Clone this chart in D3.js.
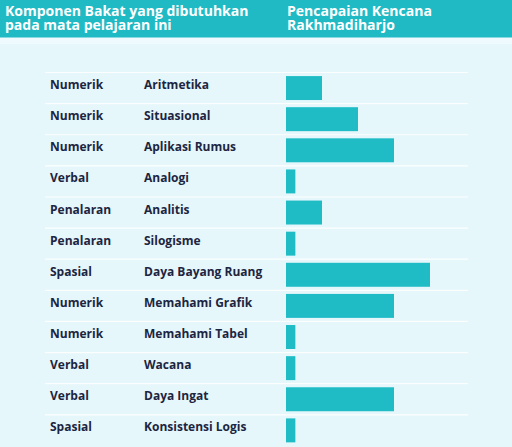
<!DOCTYPE html>
<html><head><meta charset="utf-8">
<script src="https://cdn.jsdelivr.net/npm/d3@7"></script>
<style>body{margin:0;background:#e6f7fb;}svg{display:block;}</style>
</head><body>
<script>
const headers = ["Komponen Bakat yang dibutuhkan|pada mata pelajaran ini", "Pencapaian Kencana|Rakhmadiharjo"];
const categories = ["Numerik","Numerik","Numerik","Verbal","Penalaran","Penalaran","Spasial","Numerik","Numerik","Verbal","Verbal","Spasial"];
const components = ["Aritmetika","Situasional","Aplikasi Rumus","Analogi","Analitis","Silogisme","Daya Bayang Ruang","Memahami Grafik","Memahami Tabel","Wacana","Daya Ingat","Konsistensi Logis"];
const values = [1,2,3,0.26,1,0.26,4,3,0.26,0.26,3,0.26];

const W = 512, H = 447;
const svg = d3.select("body").append("svg").attr("width", W).attr("height", H);
svg.append("rect").attr("width", W).attr("height", H).attr("fill", "#e6f7fb");
svg.append("rect").attr("y", 37).attr("width", W).attr("height", 7).attr("fill", "#eefafd");
svg.append("rect").attr("width", W).attr("height", 37.5).attr("fill", "#20bac5");

const font = "'Open Sans', sans-serif";
const hx = [5, 287];
headers.forEach((h, i) => {
  const t = svg.append("text").attr("x", hx[i]).attr("y", 15.7)
    .attr("fill", "#fff").attr("font-family", font).attr("font-weight", 700).attr("font-size", 14);
  h.split("|").forEach((line, j) => t.append("tspan").attr("x", hx[i]).attr("dy", j ? 14.3 : 0).text(line));
});

const idx = d3.range(values.length);
const y = d3.scaleBand().domain(idx).range([72.5, 72.5 + 31.12 * values.length]).paddingInner(0.23).paddingOuter(0.115);
const x = d3.scaleLinear().domain([0, 5]).range([286, 466]);

const rows = svg.append("g");
idx.forEach(i => {
  const top = y(i) - y.step() * y.paddingInner() / 2;
  rows.append("line").attr("x1", 45).attr("x2", 468)
    .attr("y1", top).attr("y2", top).attr("stroke", "#ffffff").attr("stroke-width", 1.2).attr("opacity", 0.9);
});

svg.append("g").selectAll("rect").data(idx).join("rect")
  .attr("x", x(0)).attr("y", i => y(i)).attr("height", y.bandwidth())
  .attr("width", i => x(values[i]) - x(0)).attr("fill", "#1fbcc6");

const tg = svg.append("g").attr("font-family", font).attr("font-weight", 700).attr("font-size", 12).attr("fill", "#1c2541");
tg.selectAll("text.c").data(idx).join("text").attr("class", "c")
  .attr("x", 50).attr("y", i => y(i) + 13).text(i => categories[i]);
tg.selectAll("text.n").data(idx).join("text").attr("class", "n")
  .attr("x", 144).attr("y", i => y(i) + 13).text(i => components[i]);
</script>
</body></html>
